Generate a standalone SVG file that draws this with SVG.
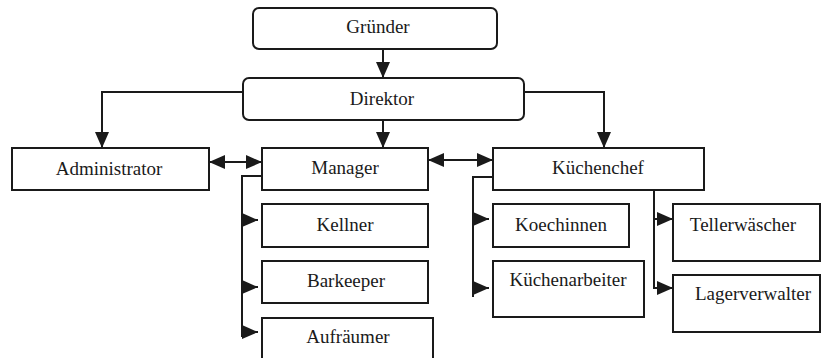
<svg xmlns="http://www.w3.org/2000/svg" width="823" height="358" viewBox="0 0 823 358">
  <style>
    .box { fill: #ffffff; stroke: #1a1a1a; stroke-width: 2; }
    .lbl { font-size: 19px; fill: #1a1a1a; text-anchor: middle; }
    .wire { fill: none; stroke: #1a1a1a; stroke-width: 2; }
  </style>
  <defs>
    <marker id="head" markerUnits="userSpaceOnUse" markerWidth="16" markerHeight="14" refX="16" refY="7" orient="auto-start-reverse">
      <path d="M0,0 L16,7 L0,14 z" fill="#1a1a1a"/>
    </marker>
  </defs>
  <rect width="823" height="358" fill="#ffffff"/>

  <g id="connectors">
    <path class="wire" d="M383,49 V78" marker-end="url(#head)"/>
    <path class="wire" d="M243,92 H102 V148" marker-end="url(#head)"/>
    <path class="wire" d="M383,120 V148" marker-end="url(#head)"/>
    <path class="wire" d="M524,92 H604 V148" marker-end="url(#head)"/>
    <path class="wire" d="M209,162 H262" marker-start="url(#head)" marker-end="url(#head)"/>
    <path class="wire" d="M428,160 H493" marker-start="url(#head)" marker-end="url(#head)"/>
    <!-- Manager branch -->
    <path class="wire" d="M262,176 H242 V337"/>
    <path class="wire" d="M242,220 H258" marker-end="url(#head)"/>
    <path class="wire" d="M242,287 H258" marker-end="url(#head)"/>
    <path class="wire" d="M242,332 H258" marker-end="url(#head)"/>
    <!-- Küchenchef branch -->
    <path class="wire" d="M493,177 H473 V297"/>
    <path class="wire" d="M473,219 H489" marker-end="url(#head)"/>
    <path class="wire" d="M473,288 H489" marker-end="url(#head)"/>
    <path class="wire" d="M654,190 V288 H673" marker-end="url(#head)"/>
    <path class="wire" d="M654,219 H673" marker-end="url(#head)"/>
  </g>

  <g font-family="Liberation Serif, DejaVu Serif, serif">
  <g id="gruender">
    <rect class="box" x="253" y="8" width="244" height="41" rx="6"/>
    <text class="lbl" x="378" y="33">Gründer</text>
  </g>
  <g id="direktor">
    <rect class="box" x="243" y="78" width="281" height="42" rx="6"/>
    <text class="lbl" x="382" y="105">Direktor</text>
  </g>
  <g id="administrator">
    <rect class="box" x="12" y="148" width="197" height="42"/>
    <text class="lbl" x="109" y="175">Administrator</text>
  </g>
  <g id="manager">
    <rect class="box" x="262" y="148" width="166" height="42"/>
    <text class="lbl" x="345" y="174">Manager</text>
  </g>
  <g id="kuechenchef">
    <rect class="box" x="493" y="148" width="211" height="42"/>
    <text class="lbl" x="598" y="174">Küchenchef</text>
  </g>
  <g id="kellner">
    <rect class="box" x="262" y="204" width="166" height="43"/>
    <text class="lbl" x="345" y="231">Kellner</text>
  </g>
  <g id="barkeeper">
    <rect class="box" x="262" y="261" width="166" height="42"/>
    <text class="lbl" x="346" y="287">Barkeeper</text>
  </g>
  <g id="aufraeumer">
    <rect class="box" x="262" y="318" width="171" height="50"/>
    <text class="lbl" x="348" y="343">Aufräumer</text>
  </g>
  <g id="koechinnen">
    <rect class="box" x="493" y="204" width="136" height="43"/>
    <text class="lbl" x="561" y="231">Koechinnen</text>
  </g>
  <g id="kuechenarbeiter">
    <rect class="box" x="493" y="261" width="151" height="56"/>
    <text class="lbl" x="568" y="286">Küchenarbeiter</text>
  </g>
  <g id="tellerwaescher">
    <rect class="box" x="673" y="204" width="147" height="57"/>
    <text class="lbl" x="743" y="231">Tellerwäscher</text>
  </g>
  <g id="lagerverwalter">
    <rect class="box" x="673" y="275" width="147" height="57"/>
    <text class="lbl" x="753" y="300">Lagerverwalter</text>
  </g>
  </g>
</svg>
